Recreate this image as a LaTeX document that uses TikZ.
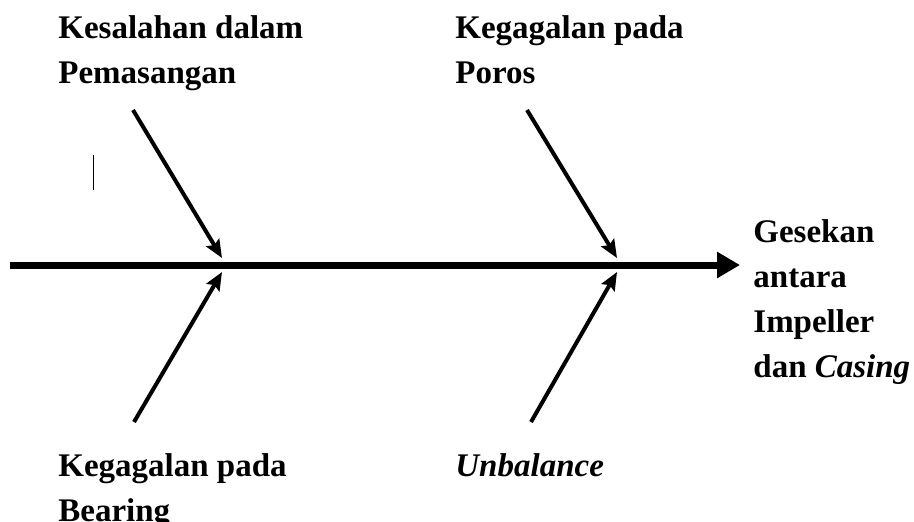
\documentclass[tikz,border=0pt]{standalone}
\usepackage{fontspec}
\setmainfont{Liberation Serif}
\usetikzlibrary{arrows.meta}
\tikzset{
  cause/.style={font=\fontsize{16.5}{22.5}\selectfont\bfseries, align=left,
    inner sep=0pt, anchor=north west},
  spine/.style={line width=3.5pt, -{Triangle[length=11.5pt,width=12.5pt]}},
  bone/.style={line width=2pt, -{Stealth[length=9pt,width=7.5pt,inset=1.5pt]}}
}
\begin{document}
\begin{tikzpicture}[x=0.5pt,y=-0.5pt]
  \useasboundingbox (0,0) rectangle (914,521);
  % labels
  \node[cause] (pasang) at (58,15) {Kesalahan dalam\\Pemasangan};
  \node[cause] (poros) at (455,15) {Kegagalan pada\\Poros};
  \node[cause] (bearing) at (58,453) {Kegagalan pada\\Bearing};
  \node[cause] (unbal) at (455,453) {\textit{Unbalance}};
  \node[cause] (gesek) at (753,219) {Gesekan\\antara\\Impeller\\dan \textit{Casing}};
  % spine
  \coordinate (tail) at (10,265);
  \coordinate (head) at (740,265);
  \draw[spine] (tail) -- (head);
  % bones
  \coordinate (s1) at (133,110);
  \coordinate (s2) at (527,110);
  \coordinate (s3) at (134,422);
  \coordinate (s4) at (531,422);
  \coordinate (j1t) at (222,258);
  \coordinate (j2t) at (617,258);
  \coordinate (j1b) at (222,272);
  \coordinate (j2b) at (617,272);
  \draw[bone] (s1) -- (j1t);
  \draw[bone] (s2) -- (j2t);
  \draw[bone] (s3) -- (j1b);
  \draw[bone] (s4) -- (j2b);
  \draw[line width=0.5pt] (93,155) -- (93,190);
\end{tikzpicture}
\end{document}
